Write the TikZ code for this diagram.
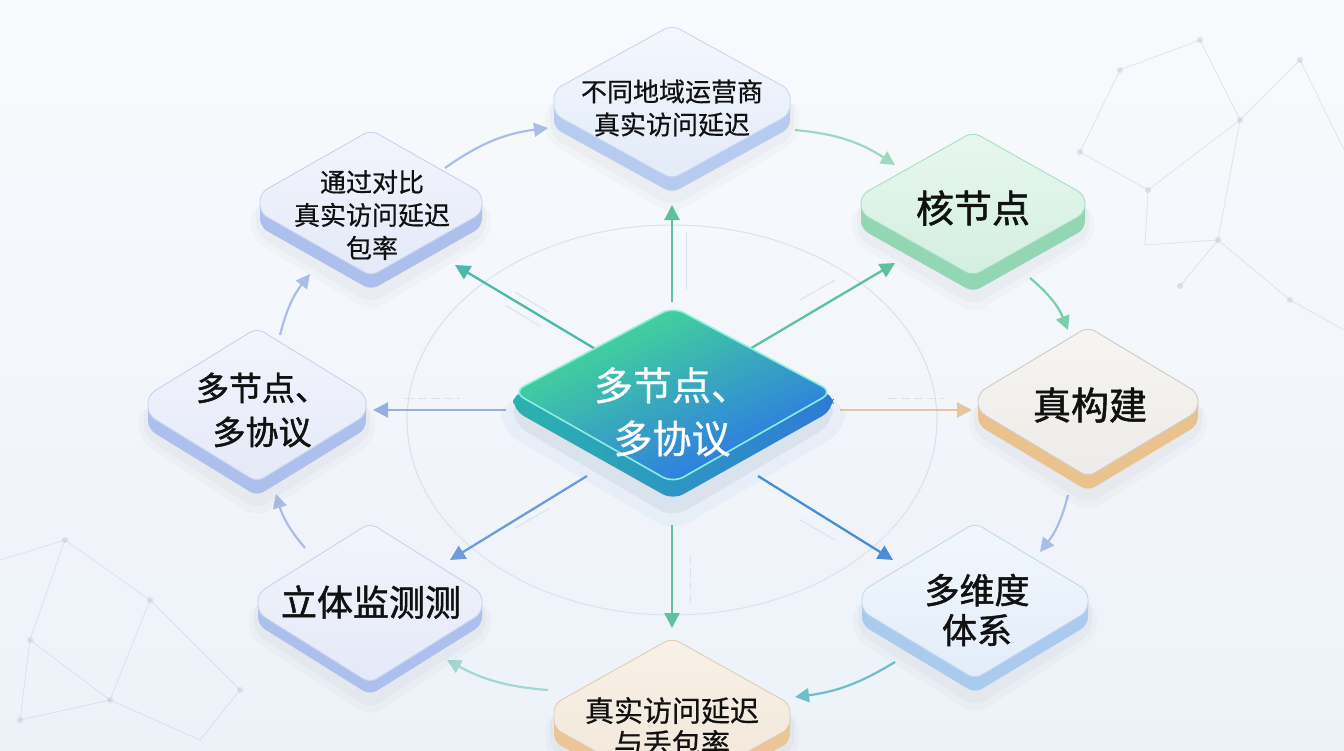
\documentclass[tikz,border=0pt]{standalone}
\usepackage{fontspec}
\newfontfamily\cjk{Noto Sans CJK SC}[FakeBold=0.6]
\newfontfamily\cjkb{Noto Sans CJK SC}[FakeBold=1.4]
\usetikzlibrary{arrows.meta}
\definecolor{bgtop}{HTML}{F8FAFD}
\definecolor{bgbot}{HTML}{EDF2F9}
% palettes
\definecolor{bluetop}{HTML}{F4F7FD}\definecolor{bluebot}{HTML}{E3EBF8}\definecolor{blueside}{HTML}{B7CAF0}\definecolor{blueline}{HTML}{C9D6EE}
\definecolor{greentop}{HTML}{E8F7EF}\definecolor{greenbot}{HTML}{D3EFE1}\definecolor{greenside}{HTML}{93D6B3}\definecolor{greenline}{HTML}{A9DDC2}
\definecolor{tantop}{HTML}{F6F5F2}\definecolor{tanbot}{HTML}{EDEBE7}\definecolor{tanside}{HTML}{E9C28E}\definecolor{tanline}{HTML}{CFCBC4}
\definecolor{beigetop}{HTML}{F8F1E7}\definecolor{beigebot}{HTML}{F1E6D8}\definecolor{beigeside}{HTML}{EBC597}\definecolor{beigeline}{HTML}{DCCDB8}
\definecolor{skytop}{HTML}{F2F7FD}\definecolor{skybot}{HTML}{E2EDF9}\definecolor{skyside}{HTML}{AACAEE}\definecolor{skyline}{HTML}{C4D7EE}
\definecolor{lavtop}{HTML}{F3F5FC}\definecolor{lavbot}{HTML}{E4E9F8}\definecolor{lavside}{HTML}{ADBFEC}\definecolor{lavline}{HTML}{C9D2EE}
% arrows
\definecolor{agreen}{HTML}{5EC29E}
\definecolor{atan}{HTML}{E6C49C}
\definecolor{ablue}{HTML}{4A8ED8}
\definecolor{ablue2}{HTML}{6E9CDB}
\definecolor{alav}{HTML}{98AEE0}
\definecolor{ateal}{HTML}{4DB9AA}
\definecolor{clav}{HTML}{AABDE7}
\definecolor{cgreen}{HTML}{9ED9BE}
\definecolor{cgreen2}{HTML}{7ACFAB}
\definecolor{cteal}{HTML}{6CBFC9}
\definecolor{cteal2}{HTML}{A6D6D0}
\definecolor{ring}{HTML}{DCE1EA}
\definecolor{net}{HTML}{C3CADE}
\definecolor{cgtop}{HTML}{42D29B}
\definecolor{cgbot}{HTML}{2E7EE0}
\definecolor{csl}{HTML}{2BB3AE}
\definecolor{csr}{HTML}{2E7AD6}
\definecolor{cedge}{HTML}{8DEFE0}
\definecolor{ink}{HTML}{111111}

\newcommand\plate[8]{% name, cx, cy, w, h, s, d, palette
  \begin{scope}[shift={(#2,#3)}]
    \fill[black,opacity=0.025,rounded corners=12pt] (-#4-4,-#6+8) -- (-#4-4,#6+#7+8) -- (0,#5+#7+14) -- (#4+4,#6+#7+8) -- (#4+4,-#6+8) -- cycle;
    \fill[black,opacity=0.02,rounded corners=14pt] (-#4-9,-#6+12) -- (-#4-9,#6+#7+12) -- (0,#5+#7+22) -- (#4+9,#6+#7+12) -- (#4+9,-#6+12) -- cycle;
    \fill[#8side,rounded corners=8pt] (-#4,-#6) -- (-#4,#6+#7) -- (0,#5+#7) -- (#4,#6+#7) -- (#4,-#6) -- cycle;
    \path[top color=#8top,bottom color=#8bot,draw=#8line,line width=0.9pt,rounded corners=8pt]
      (0,-#5) -- (#4,-#6) -- (#4,#6) -- (0,#5) -- (-#4,#6) -- (-#4,-#6) -- cycle;
  \end{scope}
  \coordinate (#1) at (#2,#3);
}

\tikzset{
  radial/.style={line width=2.3pt,-{Triangle[length=15pt,width=15pt]}},
  circ/.style={line width=2.2pt,-{Triangle[length=14pt,width=14pt]}},
  small/.style={font=\cjk\fontsize{26}{33}\selectfont,text=ink,align=center,inner sep=0pt},
  big/.style={text=ink,align=center,inner sep=0pt},
  center text/.style={font=\cjk\fontsize{39}{53}\selectfont,text=white,align=center,inner sep=0pt},
  netline/.style={net,line width=0.8pt,opacity=0.45},
  netdot/.style={fill=net,opacity=0.5},
  ghost/.style={ring,line width=1pt},
  ghostdash/.style={ring,line width=1pt,dash pattern=on 9pt off 4pt},
}

\begin{document}
\begin{tikzpicture}[x=1pt,y=-1pt]
\useasboundingbox (0,0) rectangle (1344,750);
\clip (0,0) rectangle (1344,750);
\path[top color=bgtop,bottom color=bgbot] (0,0) rectangle (1344,750);

% named connector ends
\coordinate (Cn) at (672,302);  \coordinate (Ts) at (672,205);
\coordinate (Cne) at (748,350); \coordinate (Gsw) at (895,263);
\coordinate (Ce) at (840,410);  \coordinate (Ow) at (972,410);
\coordinate (Cse) at (758,476); \coordinate (B2nw) at (893,560);
\coordinate (Cs) at (672,525);  \coordinate (Btn) at (672,628);
\coordinate (Csw) at (587,476); \coordinate (L2ne) at (450,560);
\coordinate (Cw) at (506,410);  \coordinate (L1e) at (373,410);
\coordinate (Cnw) at (597,350); \coordinate (L0se) at (455,265);
\coordinate (L0ne) at (445,168); \coordinate (Tw) at (548,128);
\coordinate (Te) at (795,130);   \coordinate (Gnw) at (895,165);
\coordinate (Gs) at (1030,278);  \coordinate (On) at (1068,330);
\coordinate (Os) at (1068,495);  \coordinate (B2ne) at (1040,552);
\coordinate (B2sw) at (895,662); \coordinate (Bte) at (795,697);
\coordinate (Btw) at (548,690);  \coordinate (L2se) at (447,660);
\coordinate (L2n) at (305,548);  \coordinate (L1s) at (276,494);
\coordinate (L1n) at (280,335);  \coordinate (L0sw) at (310,274);

% background network
\coordinate (n1) at (1080,152); \coordinate (n2) at (1148,190); \coordinate (n3) at (1145,245);
\coordinate (n4) at (1218,240); \coordinate (n5) at (1180,286); \coordinate (n6) at (1240,120);
\coordinate (n7) at (1300,60);  \coordinate (n8) at (1344,150); \coordinate (n9) at (1290,300);
\coordinate (n10) at (1200,40); \coordinate (n11) at (1120,70); \coordinate (n12) at (1344,330);
\draw[netline] (n1) -- (n2) -- (n3) -- (n4) -- (n5);
\draw[netline] (n2) -- (n6) -- (n7) -- (n8);
\draw[netline] (n6) -- (n10) -- (n11) -- (n1);
\draw[netline] (n4) -- (n9) -- (n12);
\draw[netline] (n6) -- (n4);
\foreach \p in {n1,n2,n4,n5,n6,n7,n9,n10,n11} \fill[netdot] (\p) circle (3pt);
\coordinate (m1) at (65,540); \coordinate (m2) at (150,600); \coordinate (m3) at (30,640);
\coordinate (m4) at (240,690); \coordinate (m5) at (110,700); \coordinate (m6) at (0,560);
\coordinate (m7) at (200,740); \coordinate (m8) at (20,720);
\draw[netline] (m6) -- (m1) -- (m2) -- (m4) -- (m7);
\draw[netline] (m1) -- (m3) -- (m5) -- (m2);
\draw[netline] (m3) -- (m8) -- (m5) -- (m7);
\foreach \p in {m1,m2,m3,m4,m5,m8} \fill[netdot] (\p) circle (3pt);

% ring
\draw[ghost] (672,420) ellipse (265 and 195);
% ghost parallel lines
\draw[ghostdash] (405,398) -- (460,398);
\draw[ghostdash] (888,398) -- (945,398);
\draw[ghostdash] (690,555) -- (690,605);
\draw[ghost] (515,292) -- (548,312);
\draw[ghost] (505,305) -- (540,326);
\draw[ghost] (800,300) -- (835,280);
\draw[ghost] (810,312) -- (845,292);
\draw[ghost] (515,528) -- (550,508);
\draw[ghost] (800,520) -- (835,540);
\draw[ghost] (686,232) -- (686,290);

% radial connectors
\draw[radial,agreen] (Cn) -- (Ts);
\draw[radial,agreen] (Cne) -- (Gsw);
\draw[radial,atan] (Ce) -- (Ow);
\draw[radial,ablue] (Cse) -- (B2nw);
\draw[radial,agreen] (Cs) -- (Btn);
\draw[radial,ablue2] (Csw) -- (L2ne);
\draw[radial,alav] (Cw) -- (L1e);
\draw[radial,ateal] (Cnw) -- (L0se);

% ring connectors
\draw[circ,clav] (L0ne) to[bend left=14] (Tw);
\draw[circ,cgreen] (Te) to[bend left=14] (Gnw);
\draw[circ,cgreen2] (Gs) to[bend left=14] (On);
\draw[circ,clav] (Os) to[bend left=12] (B2ne);
\draw[circ,cteal] (B2sw) to[bend left=12] (Bte);
\draw[circ,cteal2] (Btw) to[bend left=12] (L2se);
\draw[circ,clav] (L2n) to[bend left=12] (L1s);
\draw[circ,clav] (L1n) to[bend left=12] (L0sw);

% outer plates
\plate{T}{672}{102}{118}{77}{12}{14}{blue}
\plate{G}{973}{204}{112}{72}{9}{16}{green}
\plate{O}{1088}{402}{110}{75}{9}{14}{tan}
\plate{B2}{975}{601}{113}{78}{10}{14}{sky}
\plate{Bt}{672}{716}{118}{78}{12}{14}{beige}
\plate{L2}{370}{603}{112}{80}{10}{12}{lav}
\plate{L1}{257}{405}{109}{77}{10}{14}{lav}
\plate{L0}{371}{203}{111}{73}{10}{14}{lav}

% centre plate
\fill[black,opacity=0.05,rounded corners=16pt] (513,398) -- (513,424) -- (673,518) -- (833,424) -- (833,398) -- cycle;
\fill[ablue,opacity=0.06,rounded corners=20pt] (500,400) -- (500,430) -- (673,532) -- (846,430) -- (846,400) -- cycle;
\path[left color=csl,right color=csr,rounded corners=12pt] (513,392) -- (513,410) -- (673,500) -- (833,410) -- (833,392) -- cycle;
\begin{scope}
  \clip[rounded corners=12pt] (673,307) -- (833,392) -- (673,483) -- (513,392) -- cycle;
  \foreach \i in {0,...,35}{
    \pgfmathsetmacro\ta{-84+\i*4.7}
    \pgfmathsetmacro\tb{\ta+5.6}
    \pgfmathtruncatemacro\mixv{round(100*\i/35)}
    \fill[cgbot!\mixv!cgtop]
      ({673+\ta*0.423+200*0.906},{395+\ta*0.906-200*0.423}) --
      ({673+\tb*0.423+200*0.906},{395+\tb*0.906-200*0.423}) --
      ({673+\tb*0.423-200*0.906},{395+\tb*0.906+200*0.423}) --
      ({673+\ta*0.423-200*0.906},{395+\ta*0.906+200*0.423}) -- cycle;
  }
\end{scope}
\draw[cedge,line width=1.6pt,rounded corners=12pt] (673,307) -- (833,392) -- (673,483) -- (513,392) -- cycle;
\coordinate (C) at (673,395);

% texts
\node[small] (Tt) at (672,108) {不同地域运营商\\真实访问延迟};
\node[big,font=\cjkb\fontsize{38}{46}\selectfont] (Gt) at (973,208) {核节点};
\node[big,font=\cjkb\fontsize{38}{46}\selectfont] (Ot) at (1090,405) {真构建};
\node[big,font=\cjkb\fontsize{35}{40}\selectfont] (B2t) at (977,610) {多维度\\体系};
\node[small,font=\cjk\fontsize{29}{33}\selectfont] (Btt) at (672,727) {真实访问延迟\\与丢包率};
\node[big,font=\cjkb\fontsize{36}{40}\selectfont] (L2t) at (371,602) {立体监测测};
\node[big,font=\cjkb\fontsize{33}{44}\selectfont] (L1t) at (262,410) {多节点、\\多协议};
\node[small] (L0t) at (372,215) {通过对比\\真实访问延迟\\包率};
\node[center text] (Ct) at (672,412) {多节点、\\多协议};
\end{tikzpicture}
\end{document}
